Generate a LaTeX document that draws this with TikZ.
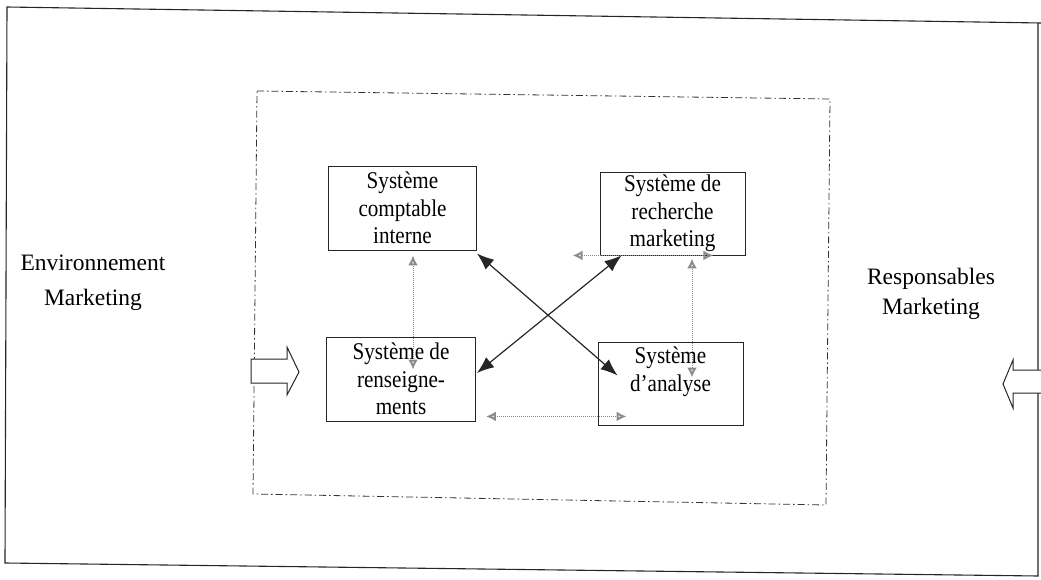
\documentclass[tikz,border=0pt]{standalone}
\usepackage{fontspec}
\setmainfont{Liberation Serif}
\newfontfamily\boxfont{Liberation Serif}[FakeStretch=0.88]
\usetikzlibrary{arrows.meta,calc}
\begin{document}
\begin{tikzpicture}[x=1pt,y=-1pt,
  frame/.style={draw=black!85,line width=1.1pt},
  dashframe/.style={draw=black!80,line width=0.8pt,dash pattern=on 7pt off 3pt on 1.5pt off 3pt},
  boxtext/.style={align=center,inner sep=0pt,font=\boxfont\fontsize{24}{27.5}\selectfont},
  sysbox/.style={boxtext,draw=black!85,line width=0.9pt,minimum width=#1},
  sysbox/.default=148pt,
  lbl/.style={align=center,inner sep=0pt},
  blackarr/.style={draw=black!85,line width=1.2pt,{Latex[length=17pt,width=13pt]}-{Latex[length=17pt,width=13pt]}},
  grayarr/.style={draw=black!45,line width=1pt,densely dotted,
     {Latex[open,length=10pt,width=10pt,line width=2pt]}-{Latex[open,length=10pt,width=10pt,line width=2pt]}},
  blockarr/.style={draw=black!85,line width=1pt,fill=white,line join=miter}
]
\useasboundingbox (0,0) rectangle (1041,580);
% outer frame
\draw[frame] (1041,23) -- (7,7) -- (5,563) -- (1038,576) -- (1038,23);
% dash-dot frame
\draw[dashframe] (257,91) -- (830,99) -- (826,505) -- (253,494) -- cycle;
% boxes
\node[sysbox, minimum height=84pt] (compt) at (402.5,208) {Système\\comptable\\interne};
\node[sysbox=145pt, minimum height=83pt] (rech) at (672.5,213.5) {Système de\\recherche\\marketing};
\node[sysbox=149pt, minimum height=84pt] (rens) at (401,379) {Système de\\renseigne-\\ments};
\node[sysbox=145pt, minimum height=83pt] (anal) at (670.5,383.5) {};
\node[boxtext] (analtxt) at ($(anal.center)+(0,-12)$) {Système\\d’analyse};
% side labels
\node[lbl,font=\fontsize{23.5}{35}\selectfont] (env) at (93,283) {Environnement\\Marketing};
\node[lbl,font=\fontsize{23.5}{30}\selectfont] (resp) at (931,294) {Responsables\\Marketing};
% black arrows
\coordinate (a1) at ($(compt.south east)+(0,3)$);
\coordinate (a2) at ($(anal.west)+(20,-8)$);
\coordinate (b1) at ($(rech.south west)+(22,0)$);
\coordinate (b2) at ($(rens.east)+(1,-6)$);
\draw[blackarr] (a1) -- (a2);
\draw[blackarr] (b1) -- (b2);
% gray dotted arrows
\coordinate (g1) at ($(compt.south)+(10.5,5)$);
\coordinate (g2) at ($(rens.north)+(12,33)$);
\coordinate (g3) at ($(rech.south)+(19.5,3)$);
\coordinate (g4) at ($(anal.north)+(21.5,36)$);
\coordinate (g5) at ($(rech.south west)+(-27,0)$);
\coordinate (g6) at ($(rech.south east)+(-32,0)$);
\coordinate (g7) at ($(rens.south east)+(10,-5)$);
\coordinate (g8) at ($(anal.south west)+(29,-9)$);
\draw[grayarr] (g1) -- (g2);
\draw[grayarr] (g3) -- (g4);
\draw[grayarr] (g5) -- (g6);
\draw[grayarr] (g7) -- (g8);
% block arrows
\draw[blockarr] (251,359) -- (287,359) -- (287,347) -- (299,372) -- (287,395) -- (287,383) -- (251,383) -- cycle;
\draw[blockarr] (1042,370) -- (1013,370) -- (1013,360) -- (1003,384) -- (1013,408) -- (1013,393) -- (1042,393);
\end{tikzpicture}
\end{document}
